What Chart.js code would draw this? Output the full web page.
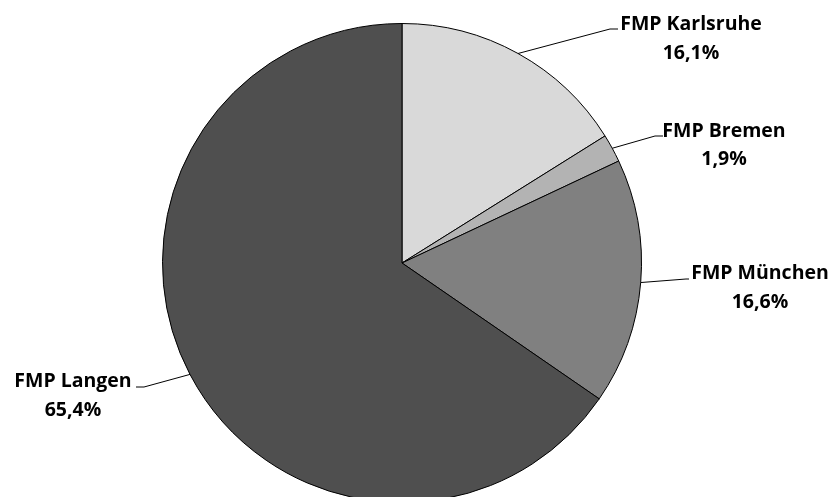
<!DOCTYPE html>
<html>
<head>
<meta charset="utf-8">
<script src="https://cdn.jsdelivr.net/npm/chart.js@4"></script>
<style>
html,body{margin:0;padding:0;background:#fff;overflow:hidden;}
canvas{display:block;}
</style>
</head>
<body>
<canvas id="c" width="835" height="503"></canvas>
<script>
const categories = ["FMP Karlsruhe", "FMP Bremen", "FMP München", "FMP Langen"];
const values = [16.1, 1.9, 16.6, 65.4];
const percentLabels = ["16,1%", "1,9%", "16,6%", "65,4%"];
const sliceColors = ["#d9d9d9", "#b3b3b3", "#808080", "#4f4f4f"];

// label layout: elbow point, end of horizontal stub, text centre, line y's
const labelLayout = [
  {ex: 610, ey: 29, hx: 618, tx: 691, ty1: 24, ty2: 53},
  {ex: 655, ey: 136, hx: 663, tx: 724, ty1: 131, ty2: 159},
  {ex: 686, ey: 279, hx: 689, tx: 760, ty1: 273, ty2: 302},
  {ex: 144, ey: 387, hx: 136, tx: 73, ty1: 381, ty2: 410}
];

const labelPlugin = {
  id: 'leaderLabels',
  afterDatasetsDraw(chart) {
    const ctx = chart.ctx;
    const meta = chart.getDatasetMeta(0);
    ctx.save();
    ctx.strokeStyle = '#000';
    ctx.lineWidth = 1;
    ctx.fillStyle = '#000';
    ctx.font = 'bold 19.5px "Open Sans"';
    ctx.textAlign = 'center';
    ctx.textBaseline = 'middle';
    meta.data.forEach((arc, i) => {
      const p = arc.getProps(['x','y','startAngle','endAngle','outerRadius'], true);
      const mid = (p.startAngle + p.endAngle) / 2;
      const sx = p.x + Math.cos(mid) * p.outerRadius;
      const sy = p.y + Math.sin(mid) * p.outerRadius;
      const L = labelLayout[i];
      ctx.beginPath();
      ctx.moveTo(sx, sy);
      ctx.lineTo(L.ex, L.ey);
      ctx.lineTo(L.hx, L.ey);
      ctx.stroke();
      ctx.fillText(categories[i], L.tx, L.ty1);
      ctx.fillText(percentLabels[i], L.tx, L.ty2);
    });
    ctx.restore();
  }
};

new Chart(document.getElementById('c'), {
  type: 'pie',
  data: {
    labels: categories,
    datasets: [{
      data: values,
      backgroundColor: sliceColors,
      borderColor: '#000',
      borderWidth: 1
    }]
  },
  options: {
    responsive: false,
    animation: false,
    devicePixelRatio: 1,
    layout: {padding: {left: 162, right: 193, top: 23, bottom: 0}},
    plugins: {legend: {display: false}, tooltip: {enabled: false}}
  },
  plugins: [labelPlugin]
});
</script>
</body>
</html>
